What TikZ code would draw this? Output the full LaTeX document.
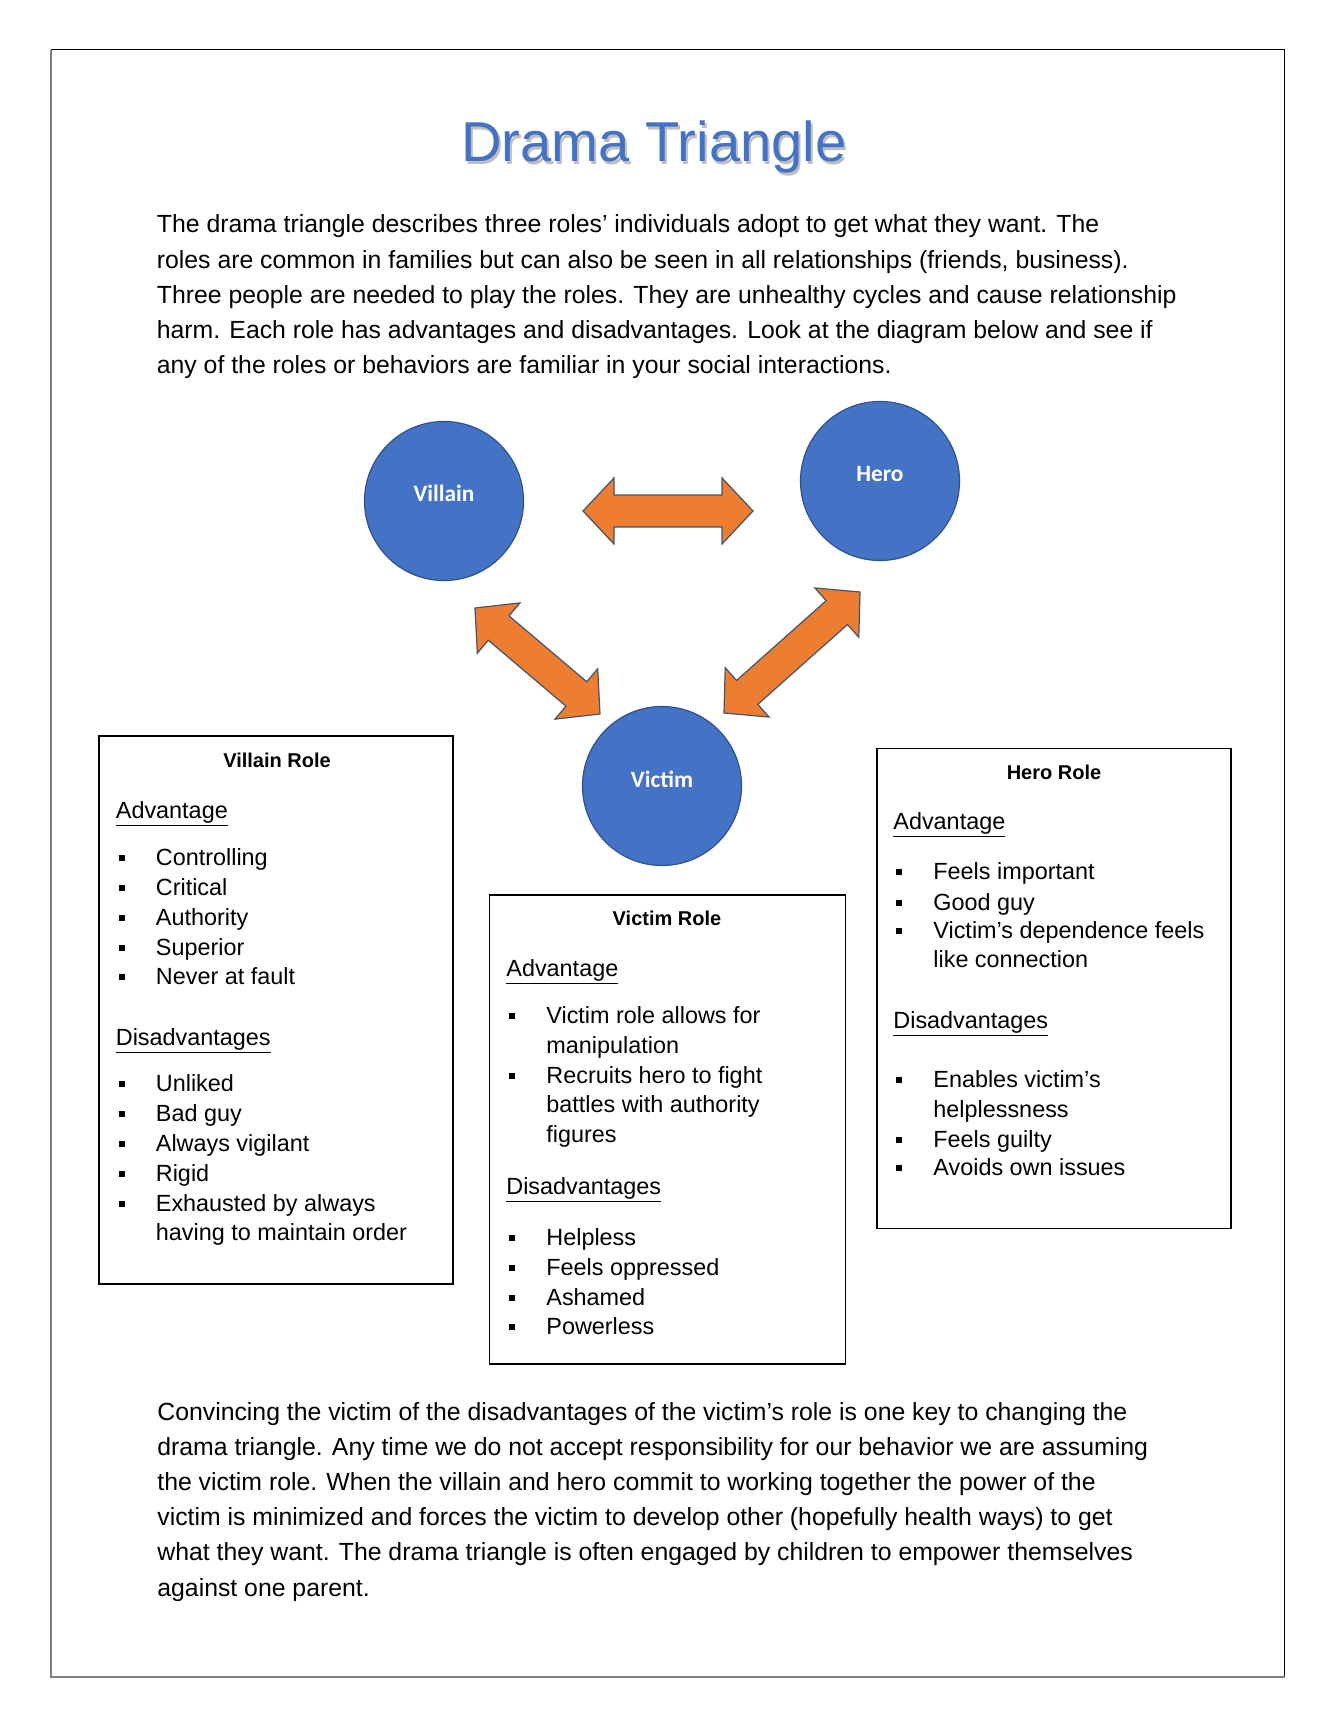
\documentclass[tikz,border=0pt]{standalone}
\usepackage{fontspec}
\setmainfont{Liberation Sans}
\newfontfamily\calfont{Carlito}
\usetikzlibrary{calc}
\definecolor{tblue}{HTML}{4472C4}
\definecolor{cblue}{HTML}{4472C4}
\definecolor{cedge}{HTML}{2F528F}
\definecolor{aorange}{HTML}{ED7D31}
\definecolor{aedge}{HTML}{44546A}
\def\bahl{15.5pt}
\def\bahw{16.5pt}
\def\basw{8pt}
\newcommand\blockarrow[2]{%
  \coordinate (ba1) at ($(#1)!\bahl!(#2)$);
  \coordinate (ba2) at ($(#2)!\bahl!(#1)$);
  \draw[blockarr] (#1) -- ($(ba1)!\bahw!90:(#2)$) -- ($(ba1)!\basw!90:(#2)$)
    -- ($(ba2)!\basw!-90:(#1)$) -- ($(ba2)!\bahw!-90:(#1)$) -- (#2)
    -- ($(ba2)!\bahw!90:(#1)$) -- ($(ba2)!\basw!90:(#1)$)
    -- ($(ba1)!\basw!-90:(#2)$) -- ($(ba1)!\bahw!-90:(#2)$) -- cycle;
}
\begin{document}
\begin{tikzpicture}[x=0.5pt,y=-0.5pt,
  title/.style={anchor=base, inner sep=0, text=tblue, font=\fontsize{28.1pt}{32pt}\selectfont},
  para/.style={anchor=base west, inner sep=0, font=\fontsize{12.4pt}{14pt}\selectfont},
  circ/.style={circle, fill=cblue, draw=cedge, line width=0.6pt, minimum size=79.5pt, inner sep=0},
  clabel/.style={inner sep=0, text=white, font=\calfont\bfseries\fontsize{11.7pt}{14pt}\selectfont},
  blockarr/.style={fill=aorange, draw=aedge, line width=0.6pt, line join=miter},
  rolebox/.style={draw=black, line width=0.75pt, inner sep=0},
  rtitle/.style={anchor=base, inner sep=0, font=\bfseries\fontsize{10pt}{12pt}\selectfont},
  rhead/.style={anchor=base west, inner sep=0, font=\fontsize{11.7pt}{14pt}\selectfont},
  item/.style={anchor=base west, inner sep=0, font=\fontsize{11.7pt}{14pt}\selectfont},
  bul/.style={rectangle, fill=black, minimum size=3pt, inner sep=0}
]
\useasboundingbox (0,0) rectangle (1338,1728);
\fill[white] (0,0) rectangle (1338,1728);
\node[minimum width=616.3pt, minimum height=813.35pt, inner sep=0] (page) at (668,863.35) {};
\draw[black, line width=0.6pt] (page.north west) -- (page.north east) -- (page.south east);
\draw[black!50, line width=1pt] (page.north west) -- (page.south west) -- (page.south east);

% title
\node[title, text=black!25] (titleshadow) at (656,165) {Drama Triangle};
\node[title] (title) at (654,162) {Drama Triangle};

% intro paragraph
\node[para] (p1) at (156.5,233) {The drama triangle describes three roles’ individuals adopt to get what they want. The};
\node[para] (p2) at (156.5,268.2) {roles are common in families but can also be seen in all relationships (friends, business).};
\node[para] (p3) at (156.5,303.4) {Three people are needed to play the roles. They are unhealthy cycles and cause relationship};
\node[para] (p4) at (156.5,338.6) {harm. Each role has advantages and disadvantages. Look at the diagram below and see if};
\node[para] (p5) at (156.5,373.8) {any of the roles or behaviors are familiar in your social interactions.};

% circles
\node[circ] (villain) at (444,501) {};
\node[circ] (hero) at (880,481) {};
\node[circ] (victim) at (662,786) {};
\node[clabel] (villainl) at ($(villain)+(0,-8)$) {Villain};
\node[clabel] (herol) at ($(hero)+(0,-7)$) {Hero};
\node[clabel] (victiml) at ($(victim)+(0,-7)$) {Victim};

% block arrows
\coordinate (h1) at (583,511);
\coordinate (h2) at (753,511);
\coordinate (l1) at (475,608);
\coordinate (l2) at (600,714);
\coordinate (r1) at (860,592);
\coordinate (r2) at (724,713);
\blockarrow{h1}{h2}
\blockarrow{l1}{l2}
\blockarrow{r1}{r2}

% villain box
\node[rolebox, minimum width=176.85pt, minimum height=273.85pt] (vbox) at (276,1010) {};
\node[rtitle] (vt) at (277,767) {Villain Role};
\node[rhead] (vh1) at (115.5,818) {\underline{Advantage}};
\foreach \t/\yy [count=\i] in {Controlling/865, Critical/895, Authority/925, Superior/955, Never at fault/984}{
  \node[bul] (vb\i) at (122.3,\yy-7) {};
  \node[item] (vi\i) at (155.5,\yy) {\t};
}
\node[rhead] (vh2) at (115.5,1045) {\underline{Disadvantages}};
\foreach \t/\yy [count=\i] in {Unliked/1091, Bad guy/1121, Always vigilant/1151, Rigid/1181, Exhausted by always/1211}{
  \node[bul] (vd\i) at (122.3,\yy-7) {};
  \node[item] (vj\i) at (155.5,\yy) {\t};
}
\node[item] (vj6) at (155.5,1240) {having to maintain order};

% victim box
\node[rolebox, minimum width=178pt, minimum height=234.5pt] (mbox) at (667.5,1129.5) {};
\node[rtitle] (mt) at (667,925) {Victim Role};
\node[rhead] (mh1) at (506,976) {\underline{Advantage}};
\node[bul] (mb1) at (512,1016) {};
\node[item] (mi1) at (546,1023) {Victim role allows for};
\node[item] (mi2) at (546,1053) {manipulation};
\node[bul] (mb2) at (512,1076) {};
\node[item] (mi3) at (546,1083) {Recruits hero to fight};
\node[item] (mi4) at (546,1112) {battles with authority};
\node[item] (mi5) at (546,1142) {figures};
\node[rhead] (mh2) at (506,1194) {\underline{Disadvantages}};
\foreach \t/\yy [count=\i] in {Helpless/1245, Feels oppressed/1275, Ashamed/1305, Powerless/1334}{
  \node[bul] (md\i) at (512,\yy-7) {};
  \node[item] (mj\i) at (546,\yy) {\t};
}

% hero box
\node[rolebox, minimum width=176.85pt, minimum height=240.2pt] (hbox) at (1054,988.5) {};
\node[rtitle] (ht) at (1054,779) {Hero Role};
\node[rhead] (hh1) at (893,829) {\underline{Advantage}};
\node[bul] (hb1) at (899,872) {};
\node[item] (hi1) at (933,879) {Feels important};
\node[bul] (hb2) at (899,903) {};
\node[item] (hi2) at (933,910) {Good guy};
\node[bul] (hb3) at (899,931) {};
\node[item] (hi3) at (933,938) {Victim’s dependence feels};
\node[item] (hi4) at (933,967) {like connection};
\node[rhead] (hh2) at (893,1028) {\underline{Disadvantages}};
\node[bul] (hd1) at (899,1080) {};
\node[item] (hj1) at (933,1087) {Enables victim’s};
\node[item] (hj2) at (933,1117) {helplessness};
\node[bul] (hd2) at (899,1140) {};
\node[item] (hj3) at (933,1147) {Feels guilty};
\node[bul] (hd3) at (899,1168) {};
\node[item] (hj4) at (933,1175) {Avoids own issues};

% closing paragraph
\node[para] (q1) at (157,1420) {Convincing the victim of the disadvantages of the victim’s role is one key to changing the};
\node[para] (q2) at (157,1455.2) {drama triangle. Any time we do not accept responsibility for our behavior we are assuming};
\node[para] (q3) at (157,1490.4) {the victim role. When the villain and hero commit to working together the power of the};
\node[para] (q4) at (157,1525.6) {victim is minimized and forces the victim to develop other (hopefully health ways) to get};
\node[para] (q5) at (157,1560.8) {what they want. The drama triangle is often engaged by children to empower themselves};
\node[para] (q6) at (157,1596) {against one parent.};
\end{tikzpicture}
\end{document}
